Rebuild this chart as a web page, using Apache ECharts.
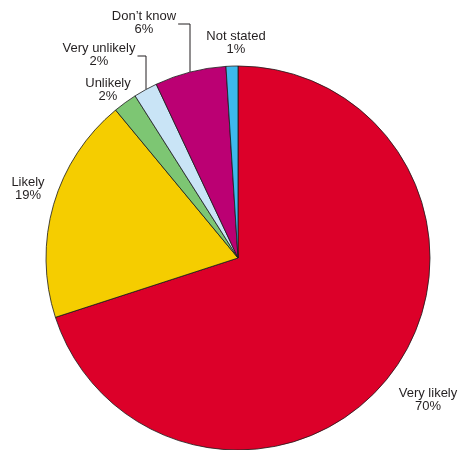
<!DOCTYPE html>
<html>
<head>
<meta charset="utf-8">
<script src="https://cdn.jsdelivr.net/npm/echarts@6/dist/echarts.min.js"></script>
<style>
  html, body { margin: 0; padding: 0; background: #fff; }
  #container { width: 459px; height: 450px; }
</style>
</head>
<body>
<div id="container"></div>
<script>
  // data, clockwise from 12 o'clock
  var categories = ['Very likely', 'Likely', 'Unlikely', 'Very unlikely', 'Don\u2019t know', 'Not stated'];
  var values = [70, 19, 2, 2, 6, 1];
  var colors = ['#dc0029', '#f5cd00', '#7dc673', '#c9e4f6', '#bb0073', '#3db9ec'];

  // label placement (block centre) and where the elbow leader drops onto the rim
  var labelPos = [[428, 400], [28, 189], [108, 90], [99, 55], [144, 23], [236, 43]];
  var leaderX = [null, null, null, 146, 190, null];

  var cx = 238, cy = 258, r = 192;
  var labelFont = '13px "Liberation Sans", Arial, sans-serif';

  var dom = document.getElementById('container');
  var myChart = echarts.init(dom);

  // width of the first label line, so the leader stops at the text
  var ctx = document.createElement('canvas').getContext('2d');
  ctx.font = labelFont;
  function textWidth(s) { return ctx.measureText(s).width; }

  var pieData = categories.map(function (name, i) {
    return {
      name: name,
      value: values[i],
      itemStyle: { color: colors[i] },
      labelLine: { show: leaderX[i] !== null }
    };
  });

  var option = {
    animation: false,
    series: [
      {
        type: 'pie',
        center: [cx, cy],
        radius: r,
        startAngle: 90,
        clockwise: true,
        itemStyle: {
          borderColor: '#1a1a1a',
          borderWidth: 0.8
        },
        label: {
          show: true,
          position: 'outside',
          formatter: function (p) { return p.name + '\n' + p.value + '%'; },
          fontFamily: '"Liberation Sans", Arial, sans-serif',
          fontSize: 13,
          lineHeight: 13,
          width: 100,
          overflow: 'none',
          color: '#231f20',
          align: 'center'
        },
        labelLine: {
          lineStyle: { color: '#231f20', width: 1 }
        },
        labelLayout: function (params) {
          var i = params.dataIndex;
          var pos = labelPos[i];
          var res = { x: pos[0], y: pos[1], align: 'center', verticalAlign: 'middle' };
          if (leaderX[i] !== null) {
            var lx = leaderX[i];
            var rimY = cy - Math.sqrt(r * r - (lx - cx) * (lx - cx));
            var right = pos[0] + textWidth(categories[i]) / 2 + 2;
            var ly = pos[1] + 1;
            res.labelLinePoints = [[lx, rimY], [lx, ly], [right, ly]];
          }
          return res;
        },
        data: pieData
      }
    ]
  };

  if (option && typeof option === 'object') {
    myChart.setOption(option, true);
  }
</script>
</body>
</html>
